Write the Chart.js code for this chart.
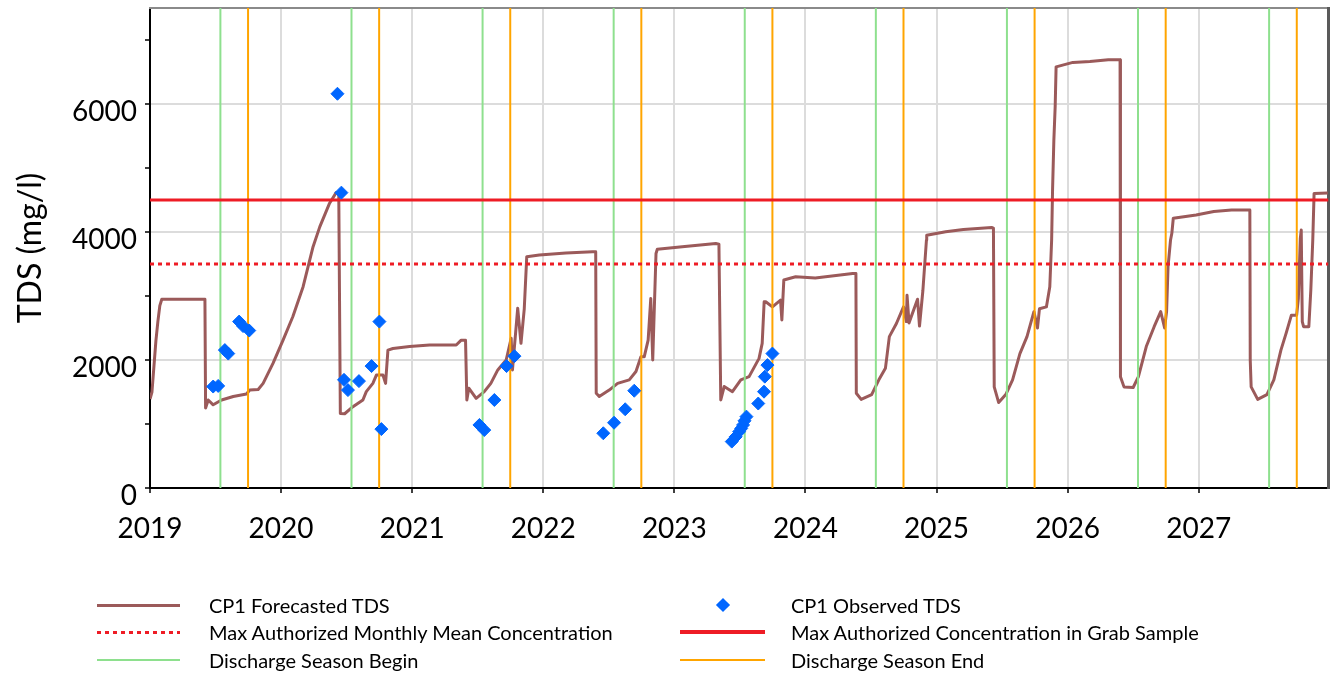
<!DOCTYPE html>
<html>
<head>
<meta charset="utf-8">
<script src="https://cdn.jsdelivr.net/npm/chart.js@4.4.1/dist/chart.umd.min.js"></script>
<style>
  html, body { margin: 0; padding: 0; background: #fff; }
  #wrap { position: relative; width: 1336px; height: 674px; overflow: hidden; }
  #chart { position: absolute; left: 0; top: 0; }
  .lg { position: absolute; font-family: Lato, "Open Sans", sans-serif; font-size: 20px; color: #000; white-space: nowrap; line-height: 24px; height: 24px; }
  .sw { position: absolute; }
</style>
</head>
<body>
<div id="wrap">
  <canvas id="chart" width="1336" height="674"></canvas>
  <div id="legend"></div>
</div>
<script>
// ---------------- data ----------------
const forecastYears = [
  2019.000, 2019.015, 2019.030, 2019.045, 2019.060, 2019.075, 2019.090, 2019.200, 2019.300, 2019.419,
  2019.424, 2019.444, 2019.482, 2019.546, 2019.635, 2019.736, 2019.761, 2019.825, 2019.863, 2019.939,
  2020.015, 2020.090, 2020.168, 2020.244, 2020.295, 2020.370, 2020.420, 2020.440, 2020.452, 2020.485,
  2020.548, 2020.624, 2020.650, 2020.700, 2020.727, 2020.777, 2020.797, 2020.815, 2020.853, 2020.980,
  2021.133, 2021.336, 2021.374, 2021.407, 2021.417, 2021.432, 2021.488, 2021.550, 2021.600, 2021.653,
  2021.717, 2021.755, 2021.765, 2021.805, 2021.830, 2021.855, 2021.874, 2021.970, 2022.173, 2022.376,
  2022.400, 2022.404, 2022.427, 2022.503, 2022.567, 2022.656, 2022.707, 2022.745, 2022.770, 2022.800,
  2022.820, 2022.835, 2022.860, 2022.870, 2023.060, 2023.316, 2023.340, 2023.354, 2023.380, 2023.443,
  2023.507, 2023.570, 2023.646, 2023.670, 2023.685, 2023.697, 2023.748, 2023.810, 2023.820, 2023.835,
  2023.925, 2024.075, 2024.360, 2024.385, 2024.388, 2024.425, 2024.505, 2024.560, 2024.610, 2024.640,
  2024.694, 2024.748, 2024.770, 2024.775, 2024.790, 2024.855, 2024.870, 2024.896, 2024.923, 2024.925,
  2025.070, 2025.205, 2025.340, 2025.420, 2025.434, 2025.440, 2025.474, 2025.528, 2025.580, 2025.636,
  2025.690, 2025.743, 2025.770, 2025.785, 2025.838, 2025.864, 2025.878, 2025.885, 2025.895, 2025.905,
  2025.912, 2026.040, 2026.170, 2026.310, 2026.400, 2026.403, 2026.430, 2026.500, 2026.540, 2026.600,
  2026.660, 2026.710, 2026.740, 2026.755, 2026.766, 2026.785, 2026.795, 2026.806, 2026.980, 2027.115,
  2027.250, 2027.390, 2027.393, 2027.400, 2027.450, 2027.520, 2027.573, 2027.627, 2027.667, 2027.707,
  2027.747, 2027.760, 2027.775, 2027.782, 2027.790, 2027.800, 2027.840, 2027.855, 2027.870, 2027.880,
  2027.985
];
const forecastTds = [
  1390, 1500, 1900, 2300, 2600, 2850, 2950, 2950, 2950, 2950,
  1250, 1375, 1300, 1375, 1430, 1470, 1530, 1540, 1635, 1950,
  2310, 2680, 3145, 3770, 4080, 4450, 4615, 4600, 1165, 1160,
  1270, 1375, 1505, 1635, 1765, 1765, 1635, 2155, 2180, 2210,
  2235, 2235, 2310, 2310, 1375, 1560, 1400, 1505, 1635, 1845,
  2000, 2340, 1845, 2810, 2260, 2800, 3615, 3640, 3670, 3690,
  3690, 1480, 1430, 1530, 1635, 1690, 1820, 2050, 2050, 2310,
  2960, 2000, 3665, 3730, 3770, 3820, 3810, 1375, 1585, 1505,
  1690, 1740, 2025, 2260, 2910, 2910, 2830, 2935, 2625, 3250,
  3300, 3280, 3350, 3350, 1480, 1385, 1460, 1690, 1870, 2365,
  2570, 2830, 2600, 3010, 2580, 2950, 2530, 3090, 3875, 3950,
  4005, 4040, 4060, 4070, 4060, 1580, 1335, 1460, 1690, 2100,
  2365, 2755, 2500, 2800, 2830, 3145, 3875, 4656, 5440, 5960,
  6580, 6650, 6665, 6690, 6690, 1740, 1580, 1570, 1740, 2210,
  2520, 2755, 2500, 2760, 3460, 3875, 3980, 4215, 4265, 4320,
  4345, 4345, 2000, 1580, 1385, 1460, 1690, 2155, 2420, 2700,
  2700, 2960, 3900, 4030, 2600, 2520, 2520, 3090, 3875, 4600,
  4610
];
const observedYears = [
  2019.482, 2019.520, 2019.571, 2019.597, 2019.680, 2019.710, 2019.757,
  2020.430, 2020.460, 2020.480, 2020.510, 2020.594, 2020.690, 2020.750, 2020.765,
  2021.513, 2021.550, 2021.627, 2021.720, 2021.780,
  2022.458, 2022.540, 2022.625, 2022.694,
  2023.438, 2023.468, 2023.494, 2023.510, 2023.524, 2023.535, 2023.550, 2023.640,
  2023.684, 2023.690, 2023.710, 2023.748
];
const observedTds = [
  1585, 1595, 2155, 2100, 2600, 2530, 2460,
  6160, 4615, 1690, 1530, 1670, 1905, 2600, 920,
  985, 905, 1375, 1905, 2060,
  855, 1020, 1230, 1520,
  725, 800, 880, 930, 985, 1050, 1115, 1320,
  1505, 1740, 1920, 2100
];
const seasonBeginYears = [2019.537, 2020.537, 2021.537, 2022.537, 2023.537, 2024.537, 2025.537, 2026.537, 2027.537];
const seasonEndYears   = [2019.748, 2020.748, 2021.748, 2022.748, 2023.748, 2024.748, 2025.748, 2026.748, 2027.748];
const monthlyMeanLimit = 3500;
const grabSampleLimit = 4500;
const xTickYears = [2019, 2020, 2021, 2022, 2023, 2024, 2025, 2026, 2027];
const yTickValues = [0, 1000, 2000, 3000, 4000, 5000, 6000, 7000];
const yLabelValues = [0, 2000, 4000, 6000];
const xMin = 2019, xMax = 2027.99, yMin = 0, yMax = 7500;

const labels = {
  forecast: 'CP1 Forecasted TDS',
  observed: 'CP1 Observed TDS',
  monthly: 'Max Authorized Monthly Mean Concentration',
  grab: 'Max Authorized Concentration in Grab Sample',
  begin: 'Discharge Season Begin',
  end: 'Discharge Season End'
};

// ---------------- styles ----------------
const C = {
  forecast: '#9b5a5a',
  observed: '#0066ff',
  red: '#ee1c25',
  green: '#8ee08e',
  orange: '#ffa500',
  grid: '#dcdcdc'
};

const pts = (xs, ys) => xs.map((x, i) => ({ x: x, y: ys[i] }));
const vlines = xs => xs.flatMap(x => [{ x: x, y: yMin }, { x: x, y: yMax }, { x: x, y: null }]);
const hline = v => [{ x: xMin, y: v }, { x: xMax, y: v }];
const noPad = s => { s.paddingTop = 0; s.paddingBottom = 0; s.paddingLeft = 0; s.paddingRight = 0; };

const datasets = [
  { label: labels.observed, type: 'scatter', data: pts(observedYears, observedTds), order: 0,
    pointStyle: 'rectRot', pointRadius: 6.5, pointBackgroundColor: C.observed, pointBorderColor: C.observed,
    pointBorderWidth: 1, showLine: false },
  { label: labels.grab, data: hline(grabSampleLimit), order: 1, borderColor: C.red, borderWidth: 3, pointRadius: 0 },
  { label: labels.monthly, data: hline(monthlyMeanLimit), order: 1, borderColor: C.red, borderWidth: 3,
    borderDash: [4, 4], pointRadius: 0 },
  { label: labels.begin, data: vlines(seasonBeginYears), order: 2, borderColor: C.green, borderWidth: 2,
    pointRadius: 0, spanGaps: false },
  { label: labels.end, data: vlines(seasonEndYears), order: 2, borderColor: C.orange, borderWidth: 2,
    pointRadius: 0, spanGaps: false },
  { label: labels.forecast, data: pts(forecastYears, forecastTds), order: 3, borderColor: C.forecast,
    borderWidth: 3, pointRadius: 0, tension: 0, borderJoinStyle: 'round' }
];

const tickFont = { family: 'Lato', size: 28 };

new Chart(document.getElementById('chart'), {
  type: 'line',
  data: { datasets: datasets },
  options: {
    responsive: false,
    animation: false,
    events: [],
    layout: { padding: { top: 8, right: 6, left: 0, bottom: 0 } },
    plugins: { legend: { display: false }, tooltip: { enabled: false } },
    scales: {
      x: {
        type: 'linear', position: 'bottom', min: xMin, max: xMax,
        afterBuildTicks: s => { s.ticks = xTickYears.map(v => ({ value: v })); },
        afterFit: s => { s.height = 186; noPad(s); },
        ticks: { callback: v => String(v), font: tickFont, color: '#000', padding: 19, maxRotation: 0, autoSkip: false },
        grid: { color: C.grid, lineWidth: 2, tickColor: '#000', tickLength: 5, tickWidth: 1.5 },
        border: { color: '#000', width: 2 }
      },
      y: {
        type: 'linear', position: 'left', min: yMin, max: yMax,
        afterBuildTicks: s => { s.ticks = yTickValues.map(v => ({ value: v })); },
        afterFit: s => { s.width = 150; noPad(s); },
        ticks: { callback: v => (yLabelValues.includes(v) ? String(v) : ''), font: tickFont, color: '#000',
                 padding: 8, labelOffset: 8, autoSkip: false },
        grid: {
          color: c => (c.tick && yLabelValues.includes(c.tick.value) && c.tick.value !== 0) ? C.grid : 'rgba(0,0,0,0)',
          lineWidth: 2, tickColor: '#000', tickLength: 5, tickWidth: 1.5
        },
        border: { color: '#000', width: 2 },
        title: { display: true, text: 'TDS (mg/l)', color: '#000',
                 font: { family: 'Lato', size: 32, lineHeight: 1 }, padding: { top: 15, bottom: 0 } }
      },
      xTop: {
        type: 'linear', position: 'top', min: xMin, max: xMax,
        afterFit: s => { s.height = 0; noPad(s); },
        ticks: { display: false }, grid: { display: false },
        border: { color: '#8a8a8a', width: 2 }
      },
      yRight: {
        type: 'linear', position: 'right', min: yMin, max: yMax,
        afterFit: s => { s.width = 0; noPad(s); },
        ticks: { display: false }, grid: { display: false },
        border: { color: '#5a5a5a', width: 3 }
      }
    }
  }
});

// ---------------- legend (HTML) ----------------
const legendSpec = [
  { key: 'forecast', col: 0, row: 0, kind: 'line', color: C.forecast, width: 3 },
  { key: 'observed', col: 1, row: 0, kind: 'diamond', color: C.observed },
  { key: 'monthly',  col: 0, row: 1, kind: 'dotted', color: C.red, width: 3 },
  { key: 'grab',     col: 1, row: 1, kind: 'line', color: C.red, width: 4 },
  { key: 'begin',    col: 0, row: 2, kind: 'line', color: C.green, width: 2 },
  { key: 'end',      col: 1, row: 2, kind: 'line', color: C.orange, width: 2 }
];
const colPos = [{ sx: 97, sw: 83, tx: 209 }, { sx: 680, sw: 85, tx: 791 }];
const rowY = [605, 632, 660];
const lg = document.getElementById('legend');
legendSpec.forEach(it => {
  const p = colPos[it.col], cy = rowY[it.row];
  const sw = document.createElement('div');
  sw.className = 'sw';
  if (it.kind === 'diamond') {
    sw.style.left = (p.sx + p.sw / 2 - 5) + 'px';
    sw.style.top = (cy - 5) + 'px';
    sw.style.width = '10px'; sw.style.height = '10px';
    sw.style.background = it.color;
    sw.style.transform = 'rotate(45deg)';
  } else {
    sw.style.left = p.sx + 'px';
    sw.style.width = p.sw + 'px';
    sw.style.top = (cy - it.width / 2) + 'px';
    sw.style.height = it.width + 'px';
    sw.style.background = it.kind === 'dotted'
      ? 'repeating-linear-gradient(90deg,' + it.color + ' 0 4px, transparent 4px 8px)'
      : it.color;
  }
  lg.appendChild(sw);
  const tx = document.createElement('div');
  tx.className = 'lg';
  tx.style.left = p.tx + 'px';
  tx.style.top = (cy - 12) + 'px';
  tx.textContent = labels[it.key];
  lg.appendChild(tx);
});
</script>
</body>
</html>
